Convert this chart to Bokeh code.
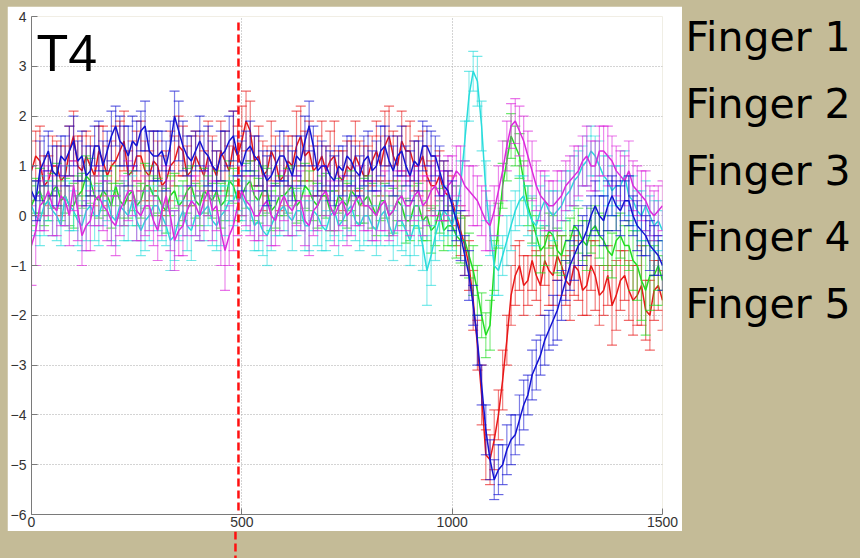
from bokeh.plotting import figure
from bokeh.models import Range1d, Label, Arrow, Span, FixedTicker, ColumnDataSource
from bokeh.layouts import row, column
from bokeh.core.properties import value
from bokeh.embed import file_html
from bokeh.resources import INLINE

# ---------------- data (time in ms, sampled every 10 ms) ----------------
t = list(range(0, 1501, 10))

finger1 = [0.9, 1.2, 1.1, 0.6, 0.7, 1.0, 1.0, 0.7, 0.8, 1.3,
           1.6, 1.0, 0.9, 1.2, 1.0, 0.8, 1.3, 1.1, 0.8, 1.0,
           1.1, 1.3, 1.5, 0.8, 0.9, 1.2, 1.2, 0.9, 0.8, 1.1,
           1.0, 0.6, 0.7, 1.0, 1.1, 1.4, 1.3, 0.8, 0.9, 1.2,
           1.0, 0.8, 1.2, 1.0, 0.8, 1.3, 1.1, 0.9, 1.4, 1.2,
           1.5, 1.9, 1.7, 1.1, 1.2, 0.8, 0.9, 1.3, 1.1, 0.7,
           0.8, 1.1, 1.0, 1.4, 1.6, 1.2, 1.3, 0.9, 1.0, 1.2,
           0.9, 1.1, 1.2, 0.8, 0.7, 1.0, 0.9, 1.2, 1.0, 0.8,
           0.8, 1.1, 1.3, 1.0, 1.4, 1.6, 1.2, 1.0, 1.5, 1.3,
           1.3, 1.0, 1.0, 1.2, 0.8, 0.6, 0.6, 0.8, 0.5, 0.4,
           0.3, 0.0, -0.3, -0.6, -1.0, -1.7, -2.6, -3.6, -4.8, -4.9,
           -4.5, -4.0, -3.3, -2.5, -1.6, -1.2, -1.0, -1.4, -1.3, -0.9,
           -1.2, -1.4, -0.9, -1.1, -1.2, -0.8, -1.0, -1.3, -1.4, -1.0,
           -1.1, -1.5, -1.4, -1.0, -1.2, -1.6, -1.5, -1.2, -1.8, -1.6,
           -1.3, -1.2, -1.5, -1.7, -1.6, -1.4, -1.9, -2.0, -1.5, -1.4,
           -1.7]
finger1_err = [0.6, 0.5, 0.7, 0.6, 0.5, 0.6, 0.5, 0.7, 0.6, 0.5,
               0.5, 0.6, 0.7, 0.5, 0.6, 0.6, 0.5, 0.7, 0.6, 0.5,
               0.7, 0.6, 0.6, 0.5, 0.6, 0.5, 0.7, 0.6, 0.5, 0.6,
               0.5, 0.6, 0.6, 0.7, 0.5, 0.6, 0.5, 0.6, 0.7, 0.5,
               0.6, 0.5, 0.7, 0.6, 0.5, 0.6, 0.6, 0.5, 0.7, 0.6,
               0.7, 0.6, 0.6, 0.5, 0.6, 0.7, 0.5, 0.6, 0.5, 0.6,
               0.6, 0.5, 0.6, 0.7, 0.6, 0.5, 0.6, 0.5, 0.6, 0.7,
               0.5, 0.6, 0.7, 0.5, 0.6, 0.5, 0.6, 0.7, 0.5, 0.6,
               0.6, 0.5, 0.6, 0.6, 0.7, 0.6, 0.5, 0.6, 0.6, 0.5,
               0.6, 0.5, 0.6, 0.5, 0.6, 0.5, 0.6, 0.5, 0.6, 0.5,
               0.5, 0.6, 0.5, 0.6, 0.5, 0.6, 0.5, 0.6, 0.5, 0.5,
               0.6, 0.5, 0.6, 0.5, 0.6, 0.6, 0.5, 0.6, 0.5, 0.6,
               0.5, 0.6, 0.5, 0.7, 0.6, 0.5, 0.6, 0.5, 0.7, 0.6,
               0.6, 0.5, 0.6, 0.5, 0.7, 0.6, 0.5, 0.6, 0.8, 0.7,
               0.6, 0.5, 0.6, 0.7, 0.6, 0.8, 0.6, 0.7, 0.6, 0.5,
               0.6]

finger2 = [0.2, 0.4, 0.5, 0.2, 0.3, 0.5, 0.6, 0.3, 0.4, 0.2,
           0.2, 0.4, 0.5, 0.8, 0.7, 0.4, 0.3, 0.5, 0.4, 0.2,
           0.6, 0.3, 0.2, 0.4, 0.5, 0.2, 0.3, 0.6, 0.6, 0.4,
           0.4, 0.2, 0.1, 0.4, 0.5, 0.2, 0.3, 0.5, 0.6, 0.3,
           0.2, 0.5, 0.4, 0.3, 0.5, 0.2, 0.3, 0.7, 0.6, 0.3,
           0.4, 0.6, 0.7, 0.4, 0.3, 0.5, 0.5, 0.1, 0.2, 0.4,
           0.4, 0.5, 0.6, 0.2, 0.3, 0.6, 0.5, 0.3, 0.2, 0.4,
           0.4, 0.1, 0.1, 0.4, 0.3, 0.2, 0.5, 0.4, 0.2, 0.3,
           0.4, 0.2, 0.0, 0.3, 0.3, 0.0, 0.1, 0.3, 0.2, -0.1,
           -0.1, 0.2, 0.2, -0.1, 0.0, -0.3, -0.2, 0.1, -0.3, -0.2,
           -0.2, -0.4, -0.5, -0.5, -0.8, -1.1, -1.5, -2.0, -2.4, -2.2,
           -1.0, -0.2, 0.6, 1.1, 1.6, 1.4, 1.2, 0.7, 0.2, -0.1,
           -0.4, -0.7, -0.6, -0.3, -0.4, -0.7, -0.8, -0.5, -0.5, -0.2,
           -0.3, -0.5, -0.6, -0.3, -0.2, -0.4, -0.5, -0.7, -0.8, -0.5,
           -0.4, -0.6, -0.6, -0.9, -1.0, -1.3, -1.5, -1.2, -1.2, -1.0,
           -1.3]
finger2_err = [0.4, 0.35, 0.45, 0.4, 0.4, 0.35, 0.45, 0.4, 0.35, 0.4,
               0.45, 0.4, 0.35, 0.4, 0.45, 0.4, 0.35, 0.4, 0.4, 0.45,
               0.4, 0.35, 0.4, 0.45, 0.4, 0.4, 0.35, 0.45, 0.4, 0.4,
               0.35, 0.4, 0.45, 0.4, 0.35, 0.4, 0.4, 0.45, 0.4, 0.35,
               0.4, 0.45, 0.4, 0.35, 0.4, 0.45, 0.4, 0.4, 0.35, 0.4,
               0.4, 0.45, 0.4, 0.5, 0.45, 0.5, 0.45, 0.4, 0.45, 0.4,
               0.4, 0.45, 0.4, 0.35, 0.4, 0.45, 0.4, 0.4, 0.45, 0.4,
               0.45, 0.4, 0.4, 0.35, 0.4, 0.45, 0.4, 0.4, 0.35, 0.45,
               0.4, 0.45, 0.4, 0.4, 0.35, 0.4, 0.45, 0.4, 0.4, 0.45,
               0.4, 0.4, 0.45, 0.4, 0.5, 0.45, 0.4, 0.45, 0.4, 0.4,
               0.4, 0.45, 0.45, 0.5, 0.45, 0.5, 0.5, 0.45, 0.45, 0.5,
               0.5, 0.45, 0.45, 0.4, 0.45, 0.4, 0.45, 0.4, 0.4, 0.45,
               0.4, 0.45, 0.4, 0.35, 0.4, 0.45, 0.4, 0.4, 0.45, 0.4,
               0.45, 0.4, 0.5, 0.45, 0.4, 0.45, 0.5, 0.4, 0.45, 0.5,
               0.45, 0.4, 0.5, 0.6, 0.7, 0.8, 0.9, 0.7, 0.6, 0.5,
               0.5]

finger3 = [0.5, 0.3, 0.9, 1.1, 1.3, 0.9, 0.8, 1.2, 1.1, 1.3,
           1.5, 1.1, 1.2, 0.8, 0.9, 1.4, 1.4, 1.0, 1.3, 1.6,
           1.8, 1.5, 1.4, 1.2, 1.5, 1.4, 1.7, 1.8, 1.3, 1.2,
           1.2, 1.3, 1.0, 1.4, 2.0, 1.7, 1.4, 1.2, 1.1, 1.3,
           1.5, 1.3, 1.2, 1.0, 0.9, 1.2, 1.3, 1.5, 1.6, 1.2,
           1.0, 1.3, 1.4, 1.2, 1.1, 0.9, 0.7, 0.8, 1.0, 1.2,
           1.2, 1.0, 0.8, 1.2, 1.1, 1.5, 1.8, 1.4, 0.9, 1.0,
           1.0, 0.8, 0.7, 1.0, 0.9, 1.2, 1.1, 0.9, 0.8, 1.1,
           1.2, 0.9, 1.0, 1.3, 1.4, 1.1, 0.9, 1.2, 1.3, 1.0,
           0.8, 1.1, 1.0, 1.4, 1.4, 1.2, 1.2, 0.9, 0.6, 0.5,
           0.2, -0.1, -0.4, -0.8, -1.2, -1.8, -2.5, -3.4, -4.3, -4.9,
           -5.3, -5.1, -5.0, -4.7, -4.5, -4.4, -4.1, -3.8, -3.6, -3.2,
           -3.0, -2.8, -2.5, -2.3, -2.1, -1.9, -1.6, -1.3, -1.0, -0.8,
           -0.6, -0.5, -0.3, 0.0, 0.2, 0.0, -0.1, 0.2, 0.4, 0.2,
           0.1, 0.3, 0.3, 0.0, -0.2, -0.3, -0.4, -0.6, -0.7, -0.8,
           -1.0]
finger3_err = [0.5, 0.4, 0.6, 0.5, 0.4, 0.5, 0.6, 0.4, 0.5, 0.5,
               0.5, 0.4, 0.5, 0.6, 0.5, 0.4, 0.5, 0.5, 0.4, 0.5,
               0.4, 0.5, 0.4, 0.6, 0.5, 0.5, 0.4, 0.5, 0.4, 0.5,
               0.5, 0.4, 0.5, 0.5, 0.5, 0.6, 0.5, 0.4, 0.5, 0.4,
               0.5, 0.4, 0.6, 0.5, 0.4, 0.5, 0.4, 0.5, 0.5, 0.4,
               0.5, 0.4, 0.5, 0.4, 0.5, 0.4, 0.5, 0.5, 0.4, 0.5,
               0.5, 0.4, 0.5, 0.4, 0.5, 0.5, 0.5, 0.4, 0.5, 0.5,
               0.4, 0.5, 0.5, 0.4, 0.5, 0.4, 0.5, 0.5, 0.4, 0.5,
               0.5, 0.4, 0.5, 0.5, 0.4, 0.5, 0.5, 0.4, 0.5, 0.4,
               0.5, 0.4, 0.5, 0.5, 0.4, 0.5, 0.4, 0.5, 0.5, 0.4,
               0.5, 0.4, 0.5, 0.4, 0.5, 0.4, 0.5, 0.4, 0.5, 0.4,
               0.4, 0.5, 0.4, 0.5, 0.5, 0.4, 0.5, 0.5, 0.4, 0.5,
               0.5, 0.4, 0.5, 0.4, 0.5, 0.6, 0.5, 0.4, 0.5, 0.5,
               0.4, 0.5, 0.5, 0.4, 0.5, 0.4, 0.5, 0.5, 0.4, 0.5,
               0.5, 0.4, 0.5, 0.4, 0.5, 0.5, 0.4, 0.5, 0.5, 0.4,
               0.5]

finger4 = [0.2, 0.0, -0.1, 0.2, 0.3, 0.1, 0.0, -0.2, 0.4, 0.2,
           0.1, -0.1, -0.2, 0.1, 0.2, 0.0, 0.0, 0.3, 0.3, 0.0,
           -0.1, 0.2, 0.1, 0.0, 0.3, -0.1, -0.3, -0.1, 0.0, 0.2,
           0.2, 0.0, -0.2, -0.5, -0.4, -0.1, 0.1, -0.2, -0.3, 0.0,
           0.0, 0.1, 0.2, -0.1, -0.2, 0.0, 0.1, 0.3, 0.3, 0.5,
           0.4, 0.2, 0.1, -0.2, -0.1, -0.3, -0.4, -0.2, 0.0, 0.1,
           0.2, 0.0, -0.1, 0.1, 0.1, -0.2, -0.2, 0.1, 0.0, -0.2,
           -0.3, 0.0, 0.1, -0.2, -0.1, 0.1, 0.2, -0.1, -0.2, 0.0,
           0.0, -0.2, -0.3, 0.0, 0.1, -0.2, -0.4, -0.1, -0.1, -0.3,
           -0.5, -0.2, -0.2, -0.6, -1.1, -0.8, -0.4, -0.1, 0.1, 0.0,
           -0.2, 0.1, 0.6, 1.5, 2.4, 2.9, 2.7, 1.8, 0.5, -0.3,
           -1.0, -1.1, -0.8, -0.5, -0.2, 0.1, 0.3, 0.4, 0.1, -0.1,
           -0.2, 0.1, 0.3, 0.1, 0.0, 0.1, 0.2, 0.4, 0.5, 0.7,
           0.8, 1.0, 1.1, 1.3, 1.2, 1.0, 0.8, 0.7, 0.5, 0.6,
           0.6, 0.8, 0.4, 0.3, 0.1, 0.0, 0.2, 0.0, -0.2, -0.1,
           -0.3]
finger4_err = [0.5, 0.4, 0.5, 0.6, 0.4, 0.5, 0.5, 0.4, 0.6, 0.5,
               0.4, 0.5, 0.5, 0.6, 0.4, 0.5, 0.6, 0.5, 0.4, 0.5,
               0.5, 0.4, 0.6, 0.5, 0.5, 0.4, 0.5, 0.6, 0.5, 0.4,
               0.5, 0.5, 0.4, 0.6, 0.5, 0.4, 0.5, 0.5, 0.6, 0.4,
               0.5, 0.6, 0.4, 0.5, 0.5, 0.6, 0.5, 0.4, 0.5, 0.4,
               0.5, 0.5, 0.4, 0.5, 0.6, 0.5, 0.6, 0.5, 0.4, 0.5,
               0.5, 0.4, 0.6, 0.5, 0.4, 0.5, 0.5, 0.4, 0.6, 0.5,
               0.4, 0.5, 0.5, 0.6, 0.4, 0.5, 0.5, 0.4, 0.5, 0.6,
               0.5, 0.4, 0.5, 0.6, 0.5, 0.4, 0.5, 0.5, 0.6, 0.5,
               0.5, 0.6, 0.4, 0.5, 0.7, 0.6, 0.5, 0.4, 0.5, 0.4,
               0.5, 0.5, 0.5, 0.4, 0.5, 0.4, 0.5, 0.5, 0.6, 0.5,
               0.6, 0.5, 0.4, 0.5, 0.5, 0.4, 0.5, 0.4, 0.5, 0.5,
               0.4, 0.5, 0.5, 0.4, 0.5, 0.4, 0.5, 0.5, 0.4, 0.5,
               0.5, 0.4, 0.5, 0.5, 0.4, 0.5, 0.4, 0.5, 0.5, 0.4,
               0.4, 0.5, 0.4, 0.5, 0.4, 0.5, 0.5, 0.4, 0.5, 0.4,
               0.4]

finger5 = [-0.6, -0.3, 0.2, 0.3, 0.5, 0.2, 0.1, 0.4, 0.3, 0.0,
           0.6, 0.1, -0.4, -0.2, -0.1, 0.3, 0.4, 0.2, 0.1, -0.1,
           -0.2, 0.1, 0.3, 0.5, 0.5, 0.1, 0.0, 0.2, 0.2, -0.1,
           -0.3, 0.1, 0.4, 0.0, -0.5, -0.3, -0.2, 0.1, 0.3, 0.2,
           0.0, 0.3, 0.5, 0.1, 0.2, -0.3, -0.7, -0.4, -0.2, 0.2,
           0.5, 0.3, 0.2, 0.0, 0.0, 0.2, 0.3, 0.0, -0.1, 0.2,
           0.4, 0.2, 0.1, 0.3, 0.3, -0.1, -0.2, 0.1, 0.2, 0.4,
           0.5, 0.2, 0.0, 0.2, 0.3, 0.0, 0.1, 0.3, 0.4, 0.2,
           0.2, 0.1, 0.0, 0.2, 0.3, 0.0, 0.1, 0.3, 0.4, 0.2,
           0.2, 0.4, 0.5, 0.2, 0.3, 0.5, 0.6, 0.4, 0.4, 0.6,
           0.7, 0.9, 0.8, 0.6, 0.5, 0.4, 0.3, 0.1, -0.1, -0.2,
           0.1, 0.5, 0.9, 1.4, 1.8, 1.9, 1.7, 1.5, 1.2, 0.9,
           0.6, 0.4, 0.3, 0.2, 0.2, 0.3, 0.4, 0.6, 0.7, 0.8,
           0.9, 1.1, 1.2, 1.0, 1.0, 1.3, 1.3, 1.2, 1.1, 0.9,
           0.8, 0.7, 0.9, 0.6, 0.5, 0.4, 0.3, 0.1, 0.0, 0.1,
           0.2]
finger5_err = [0.8, 0.7, 0.5, 0.6, 0.5, 0.6, 0.5, 0.6, 0.5, 0.6,
               0.5, 0.6, 0.6, 0.5, 0.6, 0.5, 0.6, 0.5, 0.6, 0.5,
               0.6, 0.5, 0.5, 0.6, 0.5, 0.6, 0.5, 0.6, 0.5, 0.5,
               0.6, 0.5, 0.6, 0.7, 0.6, 0.5, 0.6, 0.5, 0.5, 0.6,
               0.5, 0.6, 0.5, 0.6, 0.5, 0.7, 0.8, 0.6, 0.5, 0.6,
               0.5, 0.5, 0.6, 0.5, 0.5, 0.6, 0.5, 0.6, 0.5, 0.5,
               0.5, 0.6, 0.5, 0.5, 0.6, 0.5, 0.6, 0.5, 0.5, 0.6,
               0.5, 0.5, 0.6, 0.5, 0.5, 0.6, 0.5, 0.5, 0.6, 0.5,
               0.5, 0.6, 0.5, 0.5, 0.6, 0.5, 0.5, 0.6, 0.5, 0.5,
               0.6, 0.5, 0.5, 0.6, 0.5, 0.5, 0.6, 0.5, 0.5, 0.6,
               0.5, 0.5, 0.6, 0.5, 0.5, 0.6, 0.5, 0.5, 0.6, 0.5,
               0.5, 0.5, 0.6, 0.5, 0.45, 0.45, 0.5, 0.5, 0.5, 0.6,
               0.5, 0.5, 0.6, 0.5, 0.5, 0.6, 0.5, 0.5, 0.5, 0.6,
               0.5, 0.5, 0.6, 0.5, 0.5, 0.5, 0.5, 0.6, 0.5, 0.5,
               0.5, 0.5, 0.6, 0.5, 0.5, 0.5, 0.6, 0.5, 0.5, 0.5,
               0.5]

series_names = ["Finger 1", "Finger 2", "Finger 3", "Finger 4", "Finger 5"]
series_vals = [finger1, finger2, finger3, finger4, finger5]
series_errs = [finger1_err, finger2_err, finger3_err, finger4_err, finger5_err]
series_colors = ["#E81818", "#22DD22", "#1414D2", "#2ADCDC", "#DC2ADC"]
draw_order = [0, 1, 3, 4, 2]

x_ticks = [0, 500, 1000, 1500]
y_ticks = [-6, -5, -4, -3, -2, -1, 0, 1, 2, 3, 4]
stimulus_time = 492
panel_label = "T4"

BEIGE = "#C4BB97"
DASH_RED = "#FF1010"

# ---------------- main panel ----------------
p = figure(frame_width=631, frame_height=498,
           min_border_left=21, min_border_right=20,
           min_border_top=10, min_border_bottom=17,
           x_range=Range1d(0, 1500), y_range=Range1d(-6, 4),
           output_backend="svg", toolbar_location=None, tools="")
p.border_fill_color = "white"
p.background_fill_color = "white"
p.outline_line_color = None

for ax in (p.xaxis[0], p.yaxis[0]):
    ax.axis_line_color = "#7A7A7A"
    ax.major_tick_line_color = "#7A7A7A"
    ax.major_tick_in = 6
    ax.major_tick_out = 0
    ax.minor_tick_line_color = None
    ax.major_label_text_font = "Liberation Sans"
    ax.major_label_text_font_size = "14px"
    ax.major_label_text_color = "#333333"
p.xaxis[0].ticker = FixedTicker(ticks=x_ticks)
p.yaxis[0].ticker = FixedTicker(ticks=y_ticks)
p.xaxis[0].major_label_standoff = 2
p.yaxis[0].major_label_standoff = 5

for g in (p.xgrid[0], p.ygrid[0]):
    g.grid_line_color = "#A8A8A8"
    g.grid_line_dash = "1 2"
    g.grid_line_width = 1
p.xgrid[0].ticker = FixedTicker(ticks=x_ticks)
p.ygrid[0].ticker = FixedTicker(ticks=y_ticks)

for i in draw_order:
    vals = series_vals[i]
    errs = series_errs[i]
    col = series_colors[i]
    src = ColumnDataSource(dict(
        x=t, y=vals,
        lo=[v - e for v, e in zip(vals, errs)],
        hi=[v + e for v, e in zip(vals, errs)]))
    p.segment(x0="x", y0="lo", x1="x", y1="hi", source=src,
              line_color=col, line_alpha=0.55, line_width=1.2)
    p.scatter(x="x", y="hi", source=src, marker="dash", size=10,
              line_color=col, line_alpha=0.65, line_width=1.2)
    p.scatter(x="x", y="lo", source=src, marker="dash", size=10,
              line_color=col, line_alpha=0.65, line_width=1.2)
    p.line(x="x", y="y", source=src, line_color=col, line_width=1.5)

p.add_layout(Label(x=12, y=3.277, text=panel_label, text_font="Liberation Sans",
                   text_font_size="52px", text_color="black",
                   text_baseline="middle"))

p.add_layout(Arrow(end=None, x_start=stimulus_time, y_start=3.88,
                   x_end=stimulus_time, y_end=-7.0,
                   line_color=DASH_RED, line_width=2.5, line_dash="8 4"))

# ---------------- labels on the right ----------------
q = figure(frame_width=176, frame_height=525,
           x_range=Range1d(0, 176), y_range=Range1d(525, 0),
           min_border=0, x_axis_type=None, y_axis_type=None,
           output_backend="svg", toolbar_location=None, tools="")
if q.title is not None:
    q.title.visible = False
q.border_fill_color = BEIGE
q.background_fill_color = BEIGE
q.outline_line_color = None
q.xgrid.visible = False
q.ygrid.visible = False
label_y = [20.5, 87.2, 154, 220.7, 287.5]
q.text(x=[3] * len(series_names), y=label_y, text=series_names,
       text_font=value("DejaVu Sans"), text_font_size="41px",
       text_color="black", text_baseline="middle", text_align="left")

# ---------------- continuation of the stimulus marker below the panel ----------------
s = figure(frame_width=631, frame_height=27,
           min_border_left=21, min_border_right=20, min_border_top=0, min_border_bottom=0,
           x_range=p.x_range, y_range=Range1d(0, 1),
           x_axis_type=None, y_axis_type=None,
           output_backend="svg", toolbar_location=None, tools="")
if s.title is not None:
    s.title.visible = False
s.border_fill_color = BEIGE
s.background_fill_color = BEIGE
s.outline_line_color = None
s.xgrid.visible = False
s.ygrid.visible = False
s.add_layout(Span(location=stimulus_time, dimension="height",
                  line_color=DASH_RED, line_width=2.5, line_dash="8 4"))

layout = column(row(p, q, spacing=0), s, spacing=0)

html = file_html(layout, INLINE, title="T4")
css = "<style>html,body{background-color:%s;}body{margin:6px 0 0 7px;}</style></head>" % BEIGE
html = html.replace("</head>", css, 1)
open("out.html", "w").write(html)
